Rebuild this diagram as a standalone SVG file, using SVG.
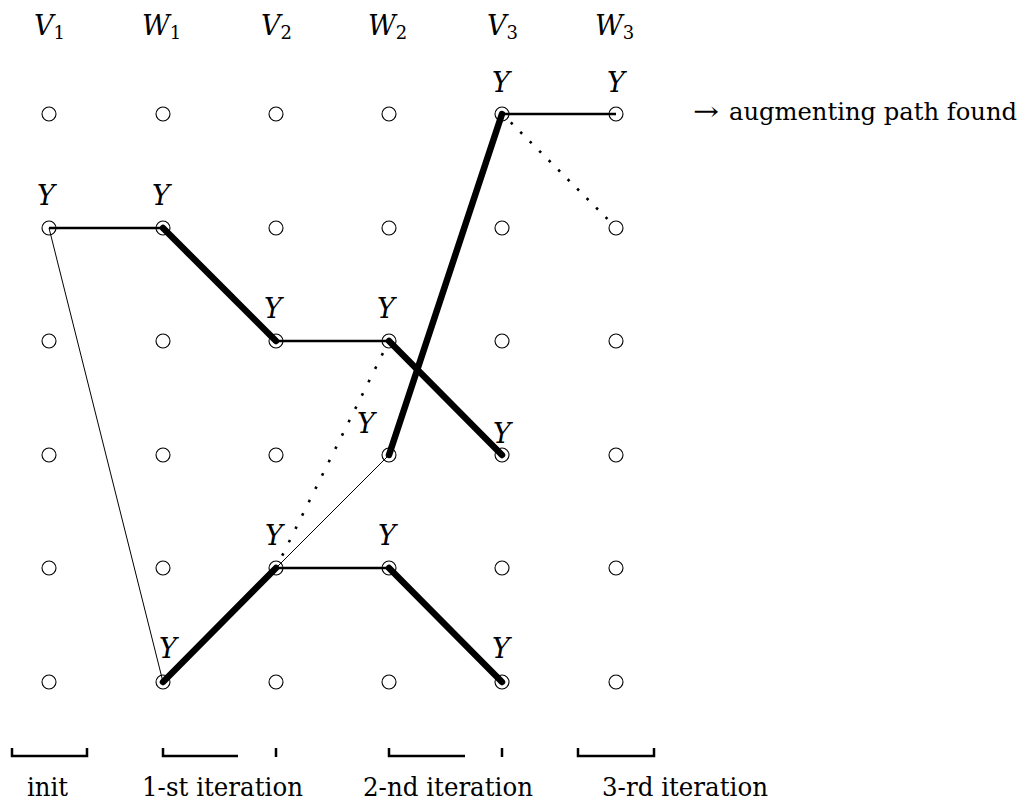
<svg xmlns="http://www.w3.org/2000/svg" width="1031" height="801" viewBox="0 0 1031 801">
<style>
  text { font-family: 'DejaVu Serif', 'Liberation Serif', serif; fill: #000; }
  .node circle { fill: none; stroke: #000; stroke-width: 1.1; }
  .y { font-style: italic; font-size: 27px; text-anchor: middle; }
  .hd { font-style: italic; font-size: 27px; }
  .sub { font-style: normal; font-size: 18px; }
  .txt { font-size: 26px; }
  .res { font-size: 24px; }
  .med { stroke: #000; stroke-width: 2.3; fill: none; }
  .thin { stroke: #000; stroke-width: 1; fill: none; }
  .thick { stroke: #000; stroke-width: 6.5; fill: none; stroke-linecap: round; }
  .dot { stroke: #000; stroke-width: 2.6; fill: none; stroke-dasharray: 2.6 12.3; }
  .dot2 { stroke: #000; stroke-width: 2.6; fill: none; stroke-dasharray: 2.6 10.8; }
  .br { stroke: #000; stroke-width: 2.5; fill: none; }
</style>

<g id="headers">
  <text class="hd" x="34" y="35">V<tspan class="sub" dy="4">1</tspan></text>
  <text class="hd" x="142" y="35">W<tspan class="sub" dy="4">1</tspan></text>
  <text class="hd" x="261" y="35">V<tspan class="sub" dy="4">2</tspan></text>
  <text class="hd" x="368" y="35">W<tspan class="sub" dy="4">2</tspan></text>
  <text class="hd" x="487" y="35">V<tspan class="sub" dy="4">3</tspan></text>
  <text class="hd" x="595" y="35">W<tspan class="sub" dy="4">3</tspan></text>
</g>

<g id="connectors">
  <line class="med" x1="49" y1="228" x2="163" y2="228"/>
  <line class="thin" x1="49" y1="228" x2="163" y2="682"/>
  <line class="thick" x1="163" y1="228" x2="276" y2="341"/>
  <line class="med" x1="276" y1="341" x2="389" y2="341"/>
  <line class="thick" x1="389" y1="341" x2="502" y2="455"/>
  <line class="thick" x1="163" y1="682" x2="276" y2="568"/>
  <line class="med" x1="276" y1="568" x2="389" y2="568"/>
  <line class="thick" x1="389" y1="568" x2="502" y2="682"/>
  <line class="thin" x1="276" y1="568" x2="389" y2="455"/>
  <line class="thick" x1="389" y1="455" x2="502" y2="114"/>
  <line class="med" x1="502" y1="114" x2="616" y2="114"/>
  <line class="dot2" x1="510.8" y1="122.4" x2="608" y2="219.5"/>
  <line class="dot" x1="382.9" y1="353.2" x2="282" y2="556"/>
</g>

<g id="nodes">
<g id="n_V1_1" class="node"><circle cx="49" cy="114" r="7"/></g>
<g id="n_V1_2" class="node"><circle cx="49" cy="228" r="7"/><text class="y" x="46" y="205">Y</text></g>
<g id="n_V1_3" class="node"><circle cx="49" cy="341" r="7"/></g>
<g id="n_V1_4" class="node"><circle cx="49" cy="455" r="7"/></g>
<g id="n_V1_5" class="node"><circle cx="49" cy="568" r="7"/></g>
<g id="n_V1_6" class="node"><circle cx="49" cy="682" r="7"/></g>

<g id="n_W1_1" class="node"><circle cx="163" cy="114" r="7"/></g>
<g id="n_W1_2" class="node"><circle cx="163" cy="228" r="7"/><text class="y" x="161" y="205">Y</text></g>
<g id="n_W1_3" class="node"><circle cx="163" cy="341" r="7"/></g>
<g id="n_W1_4" class="node"><circle cx="163" cy="455" r="7"/></g>
<g id="n_W1_5" class="node"><circle cx="163" cy="568" r="7"/></g>
<g id="n_W1_6" class="node"><circle cx="163" cy="682" r="7"/><text class="y" x="168" y="658">Y</text></g>

<g id="n_V2_1" class="node"><circle cx="276" cy="114" r="7"/></g>
<g id="n_V2_2" class="node"><circle cx="276" cy="228" r="7"/></g>
<g id="n_V2_3" class="node"><circle cx="276" cy="341" r="7"/><text class="y" x="273" y="318">Y</text></g>
<g id="n_V2_4" class="node"><circle cx="276" cy="455" r="7"/></g>
<g id="n_V2_5" class="node"><circle cx="276" cy="568" r="7"/><text class="y" x="274" y="545">Y</text></g>
<g id="n_V2_6" class="node"><circle cx="276" cy="682" r="7"/></g>

<g id="n_W2_1" class="node"><circle cx="389" cy="114" r="7"/></g>
<g id="n_W2_2" class="node"><circle cx="389" cy="228" r="7"/></g>
<g id="n_W2_3" class="node"><circle cx="389" cy="341" r="7"/><text class="y" x="386" y="318">Y</text></g>
<g id="n_W2_4" class="node"><circle cx="389" cy="455" r="7"/><text class="y" x="366" y="433">Y</text></g>
<g id="n_W2_5" class="node"><circle cx="389" cy="568" r="7"/><text class="y" x="387" y="545">Y</text></g>
<g id="n_W2_6" class="node"><circle cx="389" cy="682" r="7"/></g>

<g id="n_V3_1" class="node"><circle cx="502" cy="114" r="7"/><text class="y" x="501" y="92">Y</text></g>
<g id="n_V3_2" class="node"><circle cx="502" cy="228" r="7"/></g>
<g id="n_V3_3" class="node"><circle cx="502" cy="341" r="7"/></g>
<g id="n_V3_4" class="node"><circle cx="502" cy="455" r="7"/><text class="y" x="502" y="443">Y</text></g>
<g id="n_V3_5" class="node"><circle cx="502" cy="568" r="7"/></g>
<g id="n_V3_6" class="node"><circle cx="502" cy="682" r="7"/><text class="y" x="501" y="658">Y</text></g>

<g id="n_W3_1" class="node"><circle cx="616" cy="114" r="7"/><text class="y" x="616" y="92">Y</text></g>
<g id="n_W3_2" class="node"><circle cx="616" cy="228" r="7"/></g>
<g id="n_W3_3" class="node"><circle cx="616" cy="341" r="7"/></g>
<g id="n_W3_4" class="node"><circle cx="616" cy="455" r="7"/></g>
<g id="n_W3_5" class="node"><circle cx="616" cy="568" r="7"/></g>
<g id="n_W3_6" class="node"><circle cx="616" cy="682" r="7"/></g>
</g>

<g id="result">
  <text class="txt" x="693" y="120" textLength="26" lengthAdjust="spacingAndGlyphs">→</text>
  <text class="res" x="729" y="120" textLength="288" lengthAdjust="spacingAndGlyphs">augmenting path found</text>
</g>

<g id="brackets">
  <path class="br" d="M12,748 V756 H87 V748"/>
  <path class="br" d="M163,748 V756 H238"/>
  <path class="br" d="M276,748 V757"/>
  <path class="br" d="M389,748 V756 H465"/>
  <path class="br" d="M502,748 V757"/>
  <path class="br" d="M578,748 V756 H654 V748"/>
  <text class="txt" x="27" y="796" textLength="41" lengthAdjust="spacingAndGlyphs">init</text>
  <text class="txt" x="142" y="796" textLength="161" lengthAdjust="spacingAndGlyphs">1-st iteration</text>
  <text class="txt" x="363" y="796" textLength="170" lengthAdjust="spacingAndGlyphs">2-nd iteration</text>
  <text class="txt" x="602" y="796" textLength="166" lengthAdjust="spacingAndGlyphs">3-rd iteration</text>
</g>
</svg>
